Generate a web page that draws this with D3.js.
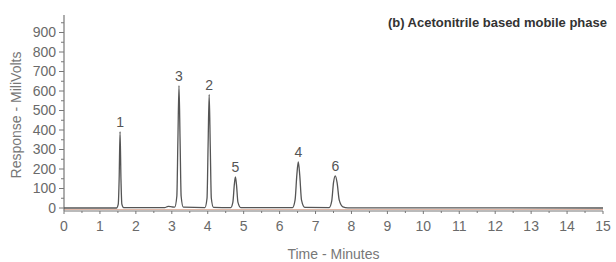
<!DOCTYPE html>
<html><head><meta charset="utf-8">
<script src="https://cdn.jsdelivr.net/npm/d3@7/dist/d3.min.js"></script>
<style>body{margin:0;background:#fff}svg{display:block}</style>
</head><body>
<svg id="c" width="616" height="262"></svg>
<script>
// Chromatogram trace: [time (min), response (mV)]
const traceTime = [0, 1.46, 1.51, 1.535, 1.56, 1.585, 1.61, 1.66, 2.8, 2.9, 3.0, 3.08, 3.14, 3.17, 3.2, 3.23, 3.26, 3.32,
  3.92, 3.98, 4.01, 4.04, 4.07, 4.10, 4.16, 4.64, 4.70, 4.74, 4.77, 4.80, 4.84, 4.92,
  6.36, 6.43, 6.48, 6.52, 6.56, 6.61, 6.70, 7.38, 7.45, 7.50, 7.55, 7.60, 7.66, 7.76, 7.9, 15];
const traceMV = [0, 0, 20, 150, 392, 150, 20, 2, 2, 8, 6, 4, 60, 350, 628, 350, 60, 4,
  2, 50, 320, 582, 320, 50, 3, 2, 30, 120, 160, 120, 30, 2,
  2, 40, 170, 236, 170, 40, 3, 2, 35, 130, 165, 130, 40, 6, 1, 0];
// Peak labels
const peakNames = ["1", "3", "2", "5", "4", "6"];
const peakTimes = [1.56, 3.2, 4.04, 4.77, 6.52, 7.55];
const peakHeights = [392, 628, 582, 160, 236, 165];
const xTicks = d3.range(0, 16, 1);
const yTicks = d3.range(0, 1000, 100);
const title = "(b) Acetonitrile based mobile phase";
const xLabel = "Time - Minutes";
const yLabel = "Response - MiliVolts";

const svg = d3.select("#c");
const font = "'Liberation Sans', Arial, sans-serif";
const x = d3.scaleLinear().domain([0, 15]).range([64, 603]);
const y = d3.scaleLinear().domain([0, 1000]).range([208, 13]);
const axisY0 = 211;

// faint reddish line near baseline
svg.append("line").attr("x1", x(0)).attr("x2", x(15)).attr("y1", 209.5).attr("y2", 209.5)
  .attr("stroke", "#e0b8a8").attr("stroke-width", 1);

// X axis
const xa = svg.append("g").attr("transform", `translate(0,${axisY0})`);
xa.append("line").attr("x1", x(0)).attr("x2", x(15)).attr("stroke", "#777").attr("stroke-width", 1.2);
xa.selectAll(".mn").data(d3.range(0, 15.01, 0.5)).join("line")
  .attr("x1", d => x(d)).attr("x2", d => x(d)).attr("y1", 0).attr("y2", d => d % 1 === 0 ? 3 : 2)
  .attr("stroke", "#777");
xa.selectAll("text").data(xTicks).join("text")
  .attr("x", d => x(d)).attr("y", 20).attr("text-anchor", "middle")
  .attr("font-family", font).attr("font-size", 14).attr("fill", "#6a6a6a").text(d => d);

// Y axis
const ya = svg.append("g").attr("transform", `translate(${x(0)},0)`);
ya.append("line").attr("y1", 15).attr("y2", axisY0).attr("stroke", "#777").attr("stroke-width", 1.2);
ya.selectAll(".mn").data(d3.range(0, 951, 50)).join("line")
  .attr("y1", d => y(d)).attr("y2", d => y(d)).attr("x1", d => d % 100 === 0 ? -5 : -3).attr("x2", 0)
  .attr("stroke", "#777");
ya.selectAll("text").data(yTicks).join("text")
  .attr("x", -8).attr("y", d => y(d)).attr("dy", "0.35em").attr("text-anchor", "end")
  .attr("font-family", font).attr("font-size", 14).attr("fill", "#6a6a6a").text(d => d);

// Trace
const pts = traceTime.map((t, i) => [t, traceMV[i]]);
svg.append("path").datum(pts)
  .attr("d", d3.line().x(d => x(d[0])).y(d => y(d[1])).curve(d3.curveMonotoneX))
  .attr("fill", "none").attr("stroke", "#555").attr("stroke-width", 1.3);

// Peak labels
svg.selectAll(".pl").data(peakNames).join("text")
  .attr("x", (d, i) => x(peakTimes[i])).attr("y", (d, i) => y(peakHeights[i]) - 5)
  .attr("text-anchor", "middle").attr("font-family", font).attr("font-size", 14)
  .attr("fill", "#555").text(d => d);

// Title and axis labels
svg.append("text").attr("x", 607).attr("y", 27).attr("text-anchor", "end")
  .attr("font-family", font).attr("font-size", 13).attr("font-weight", "bold")
  .attr("fill", "#333").text(title);
svg.append("text").attr("x", x(7.5)).attr("y", 259).attr("text-anchor", "middle")
  .attr("font-family", font).attr("font-size", 14).attr("fill", "#777").text(xLabel);
svg.append("text").attr("transform", "translate(21,115) rotate(-90)").attr("text-anchor", "middle")
  .attr("font-family", font).attr("font-size", 14).attr("fill", "#777").text(yLabel);
</script>
</body></html>
